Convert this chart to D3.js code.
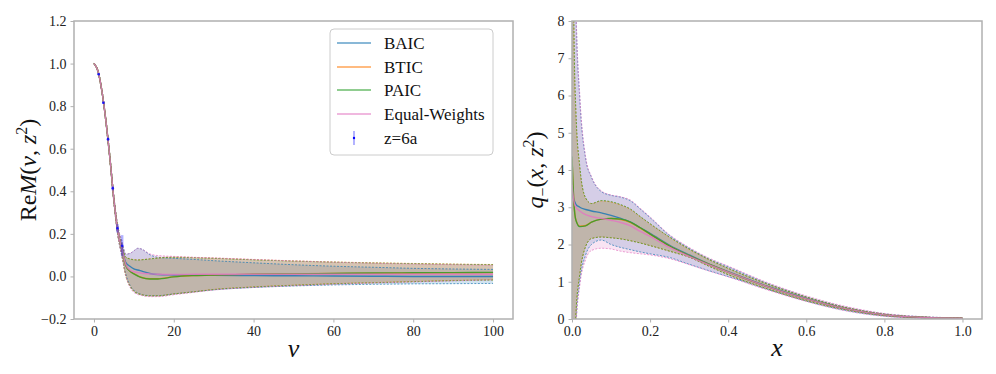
<!DOCTYPE html>
<html>
<head>
<meta charset="utf-8">
<script src="https://cdn.jsdelivr.net/npm/d3@7"></script>
<style>
  body { margin: 0; background: #fff; }
  svg { display: block; }
  svg text { font-family: "Liberation Serif", "DejaVu Serif", serif !important; }
</style>
</head>
<body>
<script>
// models, in matplotlib drawing order
const models = ["BAIC", "BTIC", "PAIC", "Equal-Weights"];
const colors = ["#1f77b4", "#ff7f0e", "#2ca02c", "#e377c2"];

// ---- left panel : Re M(nu, z^2) ----
const nu = [0, 1, 2, 3, 4, 5, 6, 7, 8, 9, 10, 11, 12, 14, 16, 20, 25, 30, 40, 50, 60, 70, 80, 90, 100];

const mCentral = [
  [1.0, 0.965, 0.87, 0.73, 0.555, 0.36, 0.21, 0.13, 0.065, 0.048, 0.036, 0.03, 0.025, 0.014, 0.009, 0.007, 0.006, 0.005, 0.004, 0.003, 0.002, 0.001, 0.0, 0.0, 0.0],
  [1.0, 0.965, 0.87, 0.73, 0.555, 0.36, 0.21, 0.13, 0.05, 0.026, 0.013, 0.003, -0.005, -0.011, -0.011, -0.001, 0.004, 0.007, 0.01, 0.012, 0.014, 0.015, 0.016, 0.017, 0.018],
  [1.0, 0.965, 0.87, 0.73, 0.555, 0.36, 0.21, 0.13, 0.05, 0.025, 0.012, 0.002, -0.006, -0.012, -0.012, -0.002, 0.004, 0.007, 0.01, 0.012, 0.014, 0.016, 0.017, 0.018, 0.019],
  [1.0, 0.965, 0.87, 0.73, 0.555, 0.36, 0.21, 0.13, 0.055, 0.03, 0.022, 0.018, 0.015, 0.012, 0.01, 0.009, 0.01, 0.01, 0.01, 0.01, 0.01, 0.01, 0.01, 0.01, 0.01]
];
const mUpper = [
  [1.0, 0.968, 0.875, 0.737, 0.565, 0.375, 0.235, 0.165, 0.105, 0.108, 0.12, 0.132, 0.128, 0.102, 0.09, 0.085, 0.08, 0.074, 0.064, 0.055, 0.048, 0.043, 0.038, 0.035, 0.033],
  [1.0, 0.968, 0.875, 0.737, 0.565, 0.372, 0.228, 0.15, 0.09, 0.083, 0.079, 0.078, 0.079, 0.083, 0.087, 0.091, 0.089, 0.086, 0.079, 0.073, 0.068, 0.064, 0.061, 0.058, 0.056],
  [1.0, 0.968, 0.875, 0.737, 0.565, 0.372, 0.228, 0.15, 0.09, 0.082, 0.078, 0.077, 0.078, 0.082, 0.086, 0.09, 0.088, 0.085, 0.078, 0.072, 0.067, 0.063, 0.06, 0.057, 0.055],
  [1.0, 0.968, 0.875, 0.737, 0.565, 0.375, 0.235, 0.165, 0.105, 0.108, 0.12, 0.132, 0.128, 0.106, 0.098, 0.094, 0.09, 0.087, 0.08, 0.073, 0.067, 0.062, 0.058, 0.055, 0.052]
];
const mLower = [
  [1.0, 0.962, 0.865, 0.723, 0.545, 0.345, 0.19, 0.095, 0.01, -0.04, -0.065, -0.078, -0.085, -0.09, -0.09, -0.082, -0.072, -0.063, -0.052, -0.045, -0.04, -0.037, -0.035, -0.034, -0.033],
  [1.0, 0.962, 0.865, 0.723, 0.545, 0.348, 0.192, 0.1, 0.0, -0.044, -0.069, -0.08, -0.086, -0.091, -0.091, -0.082, -0.072, -0.061, -0.049, -0.041, -0.034, -0.029, -0.024, -0.019, -0.016],
  [1.0, 0.962, 0.865, 0.723, 0.545, 0.348, 0.192, 0.1, 0.0, -0.045, -0.07, -0.081, -0.087, -0.092, -0.092, -0.083, -0.073, -0.062, -0.05, -0.042, -0.035, -0.03, -0.025, -0.02, -0.017],
  [1.0, 0.962, 0.865, 0.723, 0.545, 0.345, 0.188, 0.092, 0.0, -0.05, -0.075, -0.085, -0.09, -0.095, -0.095, -0.086, -0.075, -0.064, -0.052, -0.044, -0.037, -0.031, -0.026, -0.021, -0.016]
];

// lattice data z=6a
const zNu = [1.178, 2.356, 3.534, 4.712, 5.890, 7.069];
const zM = [0.95, 0.816, 0.645, 0.414, 0.226, 0.144];
const zErr = [0.004, 0.005, 0.007, 0.01, 0.02, 0.05];

const leftXTicks = [0, 20, 40, 60, 80, 100];
const leftYTicks = [-0.2, 0.0, 0.2, 0.4, 0.6, 0.8, 1.0, 1.2];

// ---- right panel : q_-(x, z^2) ----
const xq = [0, 0.005, 0.01, 0.02, 0.035, 0.05, 0.075, 0.1, 0.125, 0.15, 0.175, 0.2, 0.25, 0.3, 0.35, 0.4, 0.5, 0.6, 0.7, 0.8, 0.9, 1.0];

const qCentral = [
  [3.37, 3.2, 3.08, 3.0, 2.94, 2.9, 2.85, 2.78, 2.7, 2.6, 2.45, 2.3, 1.98, 1.72, 1.48, 1.27, 0.88, 0.55, 0.28, 0.11, 0.04, 0.02],
  [4.3, 3.1, 2.66, 2.49, 2.51, 2.6, 2.68, 2.7, 2.67, 2.59, 2.44, 2.28, 1.96, 1.7, 1.47, 1.26, 0.87, 0.54, 0.28, 0.11, 0.04, 0.02],
  [4.36, 3.1, 2.65, 2.48, 2.5, 2.6, 2.68, 2.7, 2.68, 2.6, 2.45, 2.28, 1.96, 1.7, 1.47, 1.26, 0.87, 0.54, 0.28, 0.11, 0.04, 0.02],
  [3.6, 3.15, 3.0, 2.9, 2.8, 2.75, 2.7, 2.65, 2.59, 2.5, 2.35, 2.22, 1.92, 1.68, 1.46, 1.26, 0.87, 0.54, 0.28, 0.11, 0.04, 0.02]
];
const qUpper = [
  [20, 12, 8.4, 5.9, 4.3, 3.8, 3.42, 3.32, 3.27, 3.17, 2.95, 2.72, 2.24, 1.9, 1.62, 1.4, 0.96, 0.6, 0.32, 0.14, 0.06, 0.03],
  [30, 7.7, 5.5, 4.05, 3.24, 3.1, 3.17, 3.14, 3.06, 2.94, 2.74, 2.55, 2.19, 1.87, 1.6, 1.36, 0.94, 0.59, 0.31, 0.13, 0.05, 0.03],
  [30, 7.8, 5.6, 4.1, 3.25, 3.1, 3.18, 3.15, 3.07, 2.95, 2.75, 2.56, 2.2, 1.88, 1.6, 1.36, 0.94, 0.59, 0.31, 0.13, 0.05, 0.03],
  [20, 12, 8.5, 6.0, 4.35, 3.82, 3.44, 3.33, 3.28, 3.19, 2.97, 2.74, 2.26, 1.92, 1.64, 1.42, 0.98, 0.62, 0.34, 0.15, 0.06, 0.03]
];
const qLower = [
  [-10, -4, -0.2, 1.0, 1.72, 2.0, 2.12, 2.0, 1.92, 1.86, 1.8, 1.75, 1.65, 1.47, 1.3, 1.14, 0.8, 0.48, 0.23, 0.08, 0.02, 0.0],
  [-20, -1.4, 0.12, 1.21, 1.95, 2.16, 2.2, 2.18, 2.15, 2.1, 2.04, 1.97, 1.82, 1.66, 1.42, 1.19, 0.81, 0.49, 0.25, 0.09, 0.03, 0.01],
  [-20, -1.5, 0.1, 1.2, 1.95, 2.16, 2.2, 2.18, 2.15, 2.1, 2.04, 1.97, 1.82, 1.66, 1.42, 1.19, 0.81, 0.49, 0.25, 0.09, 0.03, 0.01],
  [-10, -4, -0.3, 0.9, 1.6, 1.84, 1.9, 1.88, 1.82, 1.78, 1.75, 1.72, 1.62, 1.46, 1.29, 1.13, 0.78, 0.47, 0.22, 0.07, 0.02, 0.0]
];

const rightXTicks = [0.0, 0.2, 0.4, 0.6, 0.8, 1.0];
const rightYTicks = [0, 1, 2, 3, 4, 5, 6, 7, 8];

const width = 996;
const height = 374;
const fontFamily = "Liberation Serif";

const svg = d3.create("svg")
  .attr("width", width)
  .attr("height", height)
  .attr("viewBox", `0 0 ${width} ${height}`)
  .attr("font-family", fontFamily);

// panel frames
const left = {x0: 74, x1: 513, y0: 21, y1: 319};
const right = {x0: 572, x1: 982, y0: 21, y1: 319};

const xL = d3.scaleLinear().domain([-5, 105]).range([left.x0, left.x1]);
const yL = d3.scaleLinear().domain([-0.2, 1.2]).range([left.y1, left.y0]);
const xR = d3.scaleLinear().domain([0, 1.05]).range([right.x0, right.x1]);
const yR = d3.scaleLinear().domain([0, 8]).range([right.y1, right.y0]);

const defs = svg.append("defs");
[["clipL", left], ["clipR", right]].forEach(([id, p]) => {
  defs.append("clipPath").attr("id", id)
    .append("rect")
    .attr("x", p.x0).attr("y", p.y0)
    .attr("width", p.x1 - p.x0).attr("height", p.y1 - p.y0);
});

/**
 * Dessine bandes, bords pointillés et lignes centrales d'un panneau
 */
const drawPanel = (g, xs, central, upper, lower, x, y) => {
  const area = d3.area()
    .x((d, i) => x(xs[i]))
    .y0(d => y(d[0]))
    .y1(d => y(d[1]))
    .curve(d3.curveMonotoneX);
  const line = d3.line()
    .x((d, i) => x(xs[i]))
    .y(d => y(d))
    .curve(d3.curveMonotoneX);

  models.forEach((m, k) => {
    const band = lower[k].map((v, i) => [v, upper[k][i]]);
    g.append("path")
      .attr("d", area(band))
      .attr("fill", colors[k])
      .attr("fill-opacity", 0.2)
      .attr("stroke", "none");
  });
  models.forEach((m, k) => {
    [upper[k], lower[k]].forEach(edge => {
      g.append("path")
        .attr("d", line(edge))
        .attr("fill", "none")
        .attr("stroke", colors[k])
        .attr("stroke-opacity", 0.7)
        .attr("stroke-width", 1)
        .attr("stroke-dasharray", "2,1.5");
    });
  });
  models.forEach((m, k) => {
    g.append("path")
      .attr("d", line(central[k]))
      .attr("fill", "none")
      .attr("stroke", colors[k])
      .attr("stroke-opacity", 0.85)
      .attr("stroke-width", 1.4);
  });
};

const gL = svg.append("g").attr("clip-path", "url(#clipL)");
drawPanel(gL, nu, mCentral, mUpper, mLower, xL, yL);

// lattice points with error bars
zNu.forEach((v, i) => {
  gL.append("line")
    .attr("x1", xL(v)).attr("x2", xL(v))
    .attr("y1", yL(zM[i] - zErr[i])).attr("y2", yL(zM[i] + zErr[i]))
    .attr("stroke", "blue").attr("stroke-opacity", 0.3).attr("stroke-width", 2.5);
});
gL.selectAll("circle.pt")
  .data(zNu)
  .join("circle")
  .attr("cx", d => xL(d))
  .attr("cy", (d, i) => yL(zM[i]))
  .attr("r", 1.3)
  .attr("fill", "blue")
  .attr("fill-opacity", 0.8);

const gR = svg.append("g").attr("clip-path", "url(#clipR)");
drawPanel(gR, xq, qCentral, qUpper, qLower, xR, yR);

// axes
const spineColor = "#b0b0b0";
const styleAxis = (g) => {
  g.attr("font-family", fontFamily);
  g.selectAll(".domain").remove();
  g.selectAll(".tick line").attr("stroke", spineColor);
  g.selectAll(".tick text")
    .attr("fill", "#222")
    .attr("font-size", 14);
};

svg.append("g")
  .attr("transform", `translate(0,${left.y1})`)
  .call(d3.axisBottom(xL).tickValues(leftXTicks).tickSize(3.5).tickPadding(4).tickFormat(d3.format("d")))
  .call(styleAxis);
svg.append("g")
  .attr("transform", `translate(${left.x0},0)`)
  .call(d3.axisLeft(yL).tickValues(leftYTicks).tickSize(3.5).tickPadding(4).tickFormat(d3.format(".1f")))
  .call(styleAxis);
svg.append("g")
  .attr("transform", `translate(0,${right.y1})`)
  .call(d3.axisBottom(xR).tickValues(rightXTicks).tickSize(3.5).tickPadding(4).tickFormat(d3.format(".1f")))
  .call(styleAxis);
svg.append("g")
  .attr("transform", `translate(${right.x0},0)`)
  .call(d3.axisLeft(yR).tickValues(rightYTicks).tickSize(3.5).tickPadding(4).tickFormat(d3.format("d")))
  .call(styleAxis);

[left, right].forEach(p => {
  svg.append("rect")
    .attr("x", p.x0).attr("y", p.y0)
    .attr("width", p.x1 - p.x0).attr("height", p.y1 - p.y0)
    .attr("fill", "none")
    .attr("stroke", spineColor)
    .attr("stroke-width", 1.5);
});

// axis labels
const yLabL = svg.append("text")
  .attr("transform", `translate(36,${(left.y0 + left.y1) / 2}) rotate(-90)`)
  .attr("text-anchor", "middle")
  .attr("font-size", 24)
  .attr("fill", "#111");
yLabL.append("tspan").text("Re");
yLabL.append("tspan").attr("font-style", "italic").text("M");
yLabL.append("tspan").text("(");
yLabL.append("tspan").attr("font-style", "italic").text("ν");
yLabL.append("tspan").text(", ");
yLabL.append("tspan").attr("font-style", "italic").text("z");
yLabL.append("tspan").attr("dy", -9).attr("font-size", 16).text("2");
yLabL.append("tspan").attr("dy", 9).text(")");

svg.append("text")
  .attr("x", (left.x0 + left.x1) / 2)
  .attr("y", 357)
  .attr("text-anchor", "middle")
  .attr("font-style", "italic")
  .attr("font-size", 26)
  .attr("fill", "#111")
  .text("ν");

const yLabR = svg.append("text")
  .attr("transform", `translate(543,${(right.y0 + right.y1) / 2}) rotate(-90)`)
  .attr("text-anchor", "middle")
  .attr("font-size", 24)
  .attr("fill", "#111");
yLabR.append("tspan").attr("font-style", "italic").text("q");
yLabR.append("tspan").attr("dy", 5).attr("font-size", 16).text("−");
yLabR.append("tspan").attr("dy", -5).text("(");
yLabR.append("tspan").attr("font-style", "italic").text("x");
yLabR.append("tspan").text(", ");
yLabR.append("tspan").attr("font-style", "italic").text("z");
yLabR.append("tspan").attr("dy", -9).attr("font-size", 16).text("2");
yLabR.append("tspan").attr("dy", 9).text(")");

svg.append("text")
  .attr("x", (right.x0 + right.x1) / 2)
  .attr("y", 356)
  .attr("text-anchor", "middle")
  .attr("font-style", "italic")
  .attr("font-size", 26)
  .attr("fill", "#111")
  .text("x");

// legend
const leg = svg.append("g");
leg.append("rect")
  .attr("x", 330).attr("y", 29)
  .attr("width", 163).attr("height", 126)
  .attr("rx", 4)
  .attr("fill", "white").attr("fill-opacity", 0.8)
  .attr("stroke", "#cccccc");
const legY = [43, 67, 90, 114, 138];
models.forEach((m, k) => {
  leg.append("line")
    .attr("x1", 337).attr("x2", 371)
    .attr("y1", legY[k]).attr("y2", legY[k])
    .attr("stroke", colors[k]).attr("stroke-opacity", 0.7).attr("stroke-width", 1.4);
  leg.append("text")
    .attr("x", 384).attr("y", legY[k])
    .attr("dy", "0.35em")
    .attr("font-size", 17)
    .attr("fill", "#111")
    .text(m);
});
leg.append("line")
  .attr("x1", 354).attr("x2", 354)
  .attr("y1", legY[4] - 7).attr("y2", legY[4] + 7)
  .attr("stroke", "blue").attr("stroke-opacity", 0.5).attr("stroke-width", 1.2);
leg.append("circle")
  .attr("cx", 354).attr("cy", legY[4]).attr("r", 1.2).attr("fill", "blue");
leg.append("text")
  .attr("x", 384).attr("y", legY[4])
  .attr("dy", "0.35em")
  .attr("font-size", 17)
  .attr("fill", "#111")
  .text("z=6a");

document.body.append(svg.node());
</script>
</body>
</html>
